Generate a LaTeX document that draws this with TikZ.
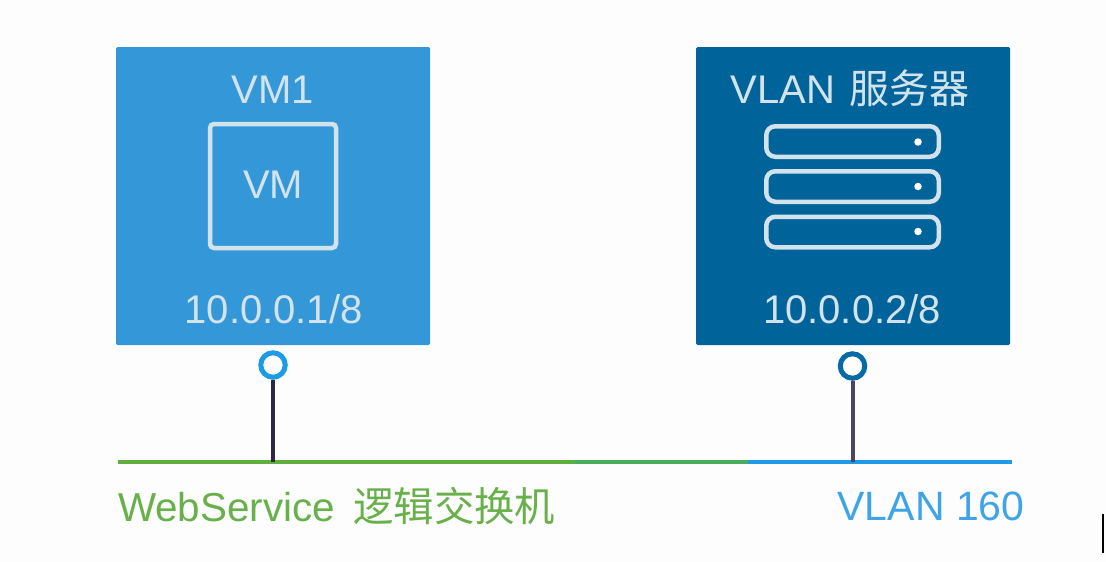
\documentclass[tikz,border=0pt]{standalone}
\usepackage{fontspec}
\setmainfont{Liberation Sans}
\newfontfamily\cjk{Noto Sans CJK SC}
\definecolor{vmblue}{HTML}{3498D8}
\definecolor{vlandark}{HTML}{006399}
\definecolor{pagebg}{HTML}{FDFDFE}
\definecolor{swgreen}{HTML}{5FAE3F}
\definecolor{swgreenb}{HTML}{4BAE5C}
\definecolor{vlanblue}{HTML}{1E9BE6}
\definecolor{labelblue}{HTML}{3FA3E8}
\definecolor{labelgreen}{HTML}{68B04A}
\definecolor{stemdark}{HTML}{2E2840}
\definecolor{stemgray}{HTML}{4A4560}
\definecolor{paleline}{HTML}{D3E3EC}
\tikzset{
  hostbox/.style={rectangle,minimum width=314pt,minimum height=298pt,inner sep=0pt,outer sep=0pt,rounded corners=1.5pt},
  lbl/.style={inner sep=0pt,outer sep=0pt,font=\fontsize{40}{44}\selectfont,anchor=base,text=#1},
  lbll/.style={inner sep=0pt,outer sep=0pt,font=\fontsize{40.4}{44}\selectfont,anchor=base west,text=#1},
  vmframe/.style={rectangle,draw=paleline,line width=4.5pt,rounded corners=4pt,minimum width=126pt,minimum height=124pt,inner sep=0pt,outer sep=0pt},
  srv/.style={rectangle,draw=paleline,line width=4.5pt,rounded corners=9pt,minimum width=172.5pt,minimum height=30.5pt,inner sep=0pt,outer sep=0pt},
  led/.style={circle,fill=white,minimum size=7.5pt,inner sep=0pt,outer sep=0pt},
  port/.style={circle,draw=#1,fill=white,line width=5pt,minimum size=24.5pt,inner sep=0pt,outer sep=2.5pt},
  stem/.style={line width=4pt,draw=#1},
  wire/.style={line width=4.5pt,draw=#1}
}
\begin{document}
\begin{tikzpicture}[x=1pt,y=-1pt]
\useasboundingbox (0,0) rectangle (1106,562);
\fill[pagebg] (0,0) rectangle (1106,562);
% hosts
\node[hostbox,fill=vmblue] (vmhost) at (273,196) {};
\node[hostbox,fill=vlandark] (vlanhost) at (853,196) {};
\node[lbl=paleline] (vmname) at (273,103) {VM1};
\node[vmframe] (vmicon) at (273,186) {};
\node[lbl=paleline] (vmtext) at (273,198) {VM};
\node[lbl=paleline] (vmip) at (273.5,323) {10.0.0.1/8};
\node[lbl=paleline] (vlanname) at (850,103) {VLAN\hspace{3pt} {\cjk 服务器}};
\node[srv] (s1) at (852.5,141.5) {};
\node[srv] (s2) at (852.5,186.5) {};
\node[srv] (s3) at (852.5,232) {};
\node[led] (d1) at (918,142) {};
\node[led] (d2) at (918,186.5) {};
\node[led] (d3) at (918,231.5) {};
\node[lbl=paleline] (vlanip) at (852,323) {10.0.0.2/8};
% network line
\coordinate (gstart) at (118,462);
\coordinate (gend) at (748,462);
\coordinate (bend) at (1012,462);
\coordinate (tapa) at (272.5,462);
\coordinate (tapb) at (852.5,462);
\draw[wire=swgreen] (gstart) -- (gend);
\draw[wire=swgreenb] (575,462) -- (gend);
\draw[wire=vlanblue] (gend) -- (bend);
% ports
\node[port=vlanblue] (pa) at (273,365) {};
\node[port=vlandark!85!vlanblue] (pb) at (852.5,366) {};
\draw[stem=stemdark] (pa.south -| tapa) -- (tapa);
\draw[stem=stemgray] (pb.south -| tapb) -- (tapb);
% labels
\node[lbll=labelgreen] (wslabel) at (118,521) {WebService\hspace{7pt} {\cjk 逻辑交换机}};
\node[lbl=labelblue,font=\fontsize{41}{44}\selectfont] (vlanlabel) at (931,520) {VLAN 160};
% edge mark at the lower right
\fill[black] (1102,514) rectangle (1104,553);
\end{tikzpicture}
\end{document}
